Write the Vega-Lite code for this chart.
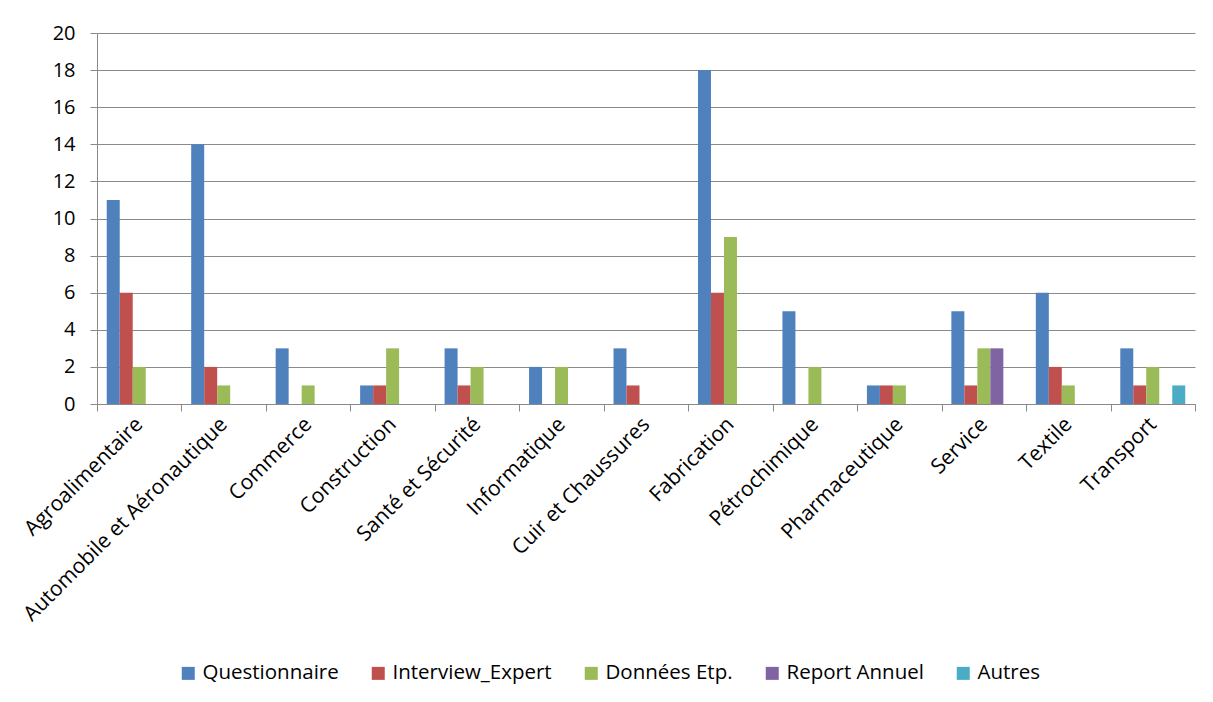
{
  "$schema": "https://vega.github.io/schema/vega-lite/v6.json",
  "autosize": {"type": "none"},
  "width": 1098,
  "height": 371,
  "padding": {"left": 97, "top": 33, "right": 18, "bottom": 298},
  "background": "white",
  "config": {
    "font": "Open Sans",
    "view": {"stroke": null}
  },
  "data": {
    "values": [
      {"secteur": "Agroalimentaire", "source": "Questionnaire", "n": 11},
      {"secteur": "Agroalimentaire", "source": "Interview_Expert", "n": 6},
      {"secteur": "Agroalimentaire", "source": "Données Etp.", "n": 2},
      {"secteur": "Automobile et Aéronautique", "source": "Questionnaire", "n": 14},
      {"secteur": "Automobile et Aéronautique", "source": "Interview_Expert", "n": 2},
      {"secteur": "Automobile et Aéronautique", "source": "Données Etp.", "n": 1},
      {"secteur": "Commerce", "source": "Questionnaire", "n": 3},
      {"secteur": "Commerce", "source": "Données Etp.", "n": 1},
      {"secteur": "Construction", "source": "Questionnaire", "n": 1},
      {"secteur": "Construction", "source": "Interview_Expert", "n": 1},
      {"secteur": "Construction", "source": "Données Etp.", "n": 3},
      {"secteur": "Santé et Sécurité", "source": "Questionnaire", "n": 3},
      {"secteur": "Santé et Sécurité", "source": "Interview_Expert", "n": 1},
      {"secteur": "Santé et Sécurité", "source": "Données Etp.", "n": 2},
      {"secteur": "Informatique", "source": "Questionnaire", "n": 2},
      {"secteur": "Informatique", "source": "Données Etp.", "n": 2},
      {"secteur": "Cuir et Chaussures", "source": "Questionnaire", "n": 3},
      {"secteur": "Cuir et Chaussures", "source": "Interview_Expert", "n": 1},
      {"secteur": "Fabrication", "source": "Questionnaire", "n": 18},
      {"secteur": "Fabrication", "source": "Interview_Expert", "n": 6},
      {"secteur": "Fabrication", "source": "Données Etp.", "n": 9},
      {"secteur": "Pétrochimique", "source": "Questionnaire", "n": 5},
      {"secteur": "Pétrochimique", "source": "Données Etp.", "n": 2},
      {"secteur": "Pharmaceutique", "source": "Questionnaire", "n": 1},
      {"secteur": "Pharmaceutique", "source": "Interview_Expert", "n": 1},
      {"secteur": "Pharmaceutique", "source": "Données Etp.", "n": 1},
      {"secteur": "Service", "source": "Questionnaire", "n": 5},
      {"secteur": "Service", "source": "Interview_Expert", "n": 1},
      {"secteur": "Service", "source": "Données Etp.", "n": 3},
      {"secteur": "Service", "source": "Report Annuel", "n": 3},
      {"secteur": "Textile", "source": "Questionnaire", "n": 6},
      {"secteur": "Textile", "source": "Interview_Expert", "n": 2},
      {"secteur": "Textile", "source": "Données Etp.", "n": 1},
      {"secteur": "Transport", "source": "Questionnaire", "n": 3},
      {"secteur": "Transport", "source": "Interview_Expert", "n": 1},
      {"secteur": "Transport", "source": "Données Etp.", "n": 2},
      {"secteur": "Transport", "source": "Autres", "n": 1}
    ]
  },
  "mark": {"type": "bar"},
  "encoding": {
    "x": {
      "field": "secteur",
      "type": "nominal",
      "sort": null,
      "scale": {
        "domain": ["Agroalimentaire", "Automobile et Aéronautique", "Commerce", "Construction", "Santé et Sécurité", "Informatique", "Cuir et Chaussures", "Fabrication", "Pétrochimique", "Pharmaceutique", "Service", "Textile", "Transport"],
        "paddingInner": 0,
        "paddingOuter": 0
      },
      "axis": {
        "title": null,
        "tickBand": "extent",
        "labelAngle": -45,
        "labelAlign": "right",
        "labelBaseline": "middle",
        "labelFontSize": 21,
        "labelColor": "#000000",
        "labelPadding": 10,
        "labelOverlap": false,
        "labelLimit": 0,
        "domainColor": "#8a8a8a",
        "tickColor": "#8a8a8a",
        "tickSize": 7,
        "grid": false
      }
    },
    "xOffset": {
      "field": "source",
      "type": "nominal",
      "scale": {
        "domain": ["Questionnaire", "Interview_Expert", "Données Etp.", "Report Annuel", "Autres"],
        "paddingInner": 0,
        "paddingOuter": 0.75
      }
    },
    "y": {
      "field": "n",
      "type": "quantitative",
      "scale": {"domain": [0, 20], "nice": false},
      "axis": {
        "title": null,
        "values": [0, 2, 4, 6, 8, 10, 12, 14, 16, 18, 20],
        "grid": true,
        "gridColor": "#8a8a8a",
        "domainColor": "#8a8a8a",
        "tickColor": "#8a8a8a",
        "tickSize": 7,
        "labelFontSize": 20,
        "labelColor": "#000000",
        "labelPadding": 15,
        "labelOverlap": false
      }
    },
    "color": {
      "field": "source",
      "type": "nominal",
      "scale": {
        "domain": ["Questionnaire", "Interview_Expert", "Données Etp.", "Report Annuel", "Autres"],
        "range": ["#4F81BD", "#C0504D", "#9BBB59", "#8064A2", "#4BACC6"]
      },
      "legend": {
        "title": null,
        "orient": "none",
        "direction": "horizontal",
        "legendX": 81,
        "legendY": 630,
        "symbolType": "square",
        "symbolSize": 169,
        "symbolStrokeWidth": 0,
        "labelFontSize": 20.5,
        "labelColor": "#000000",
        "labelOffset": 4,
        "columnPadding": 29,
        "labelLimit": 0
      }
    }
  }
}
